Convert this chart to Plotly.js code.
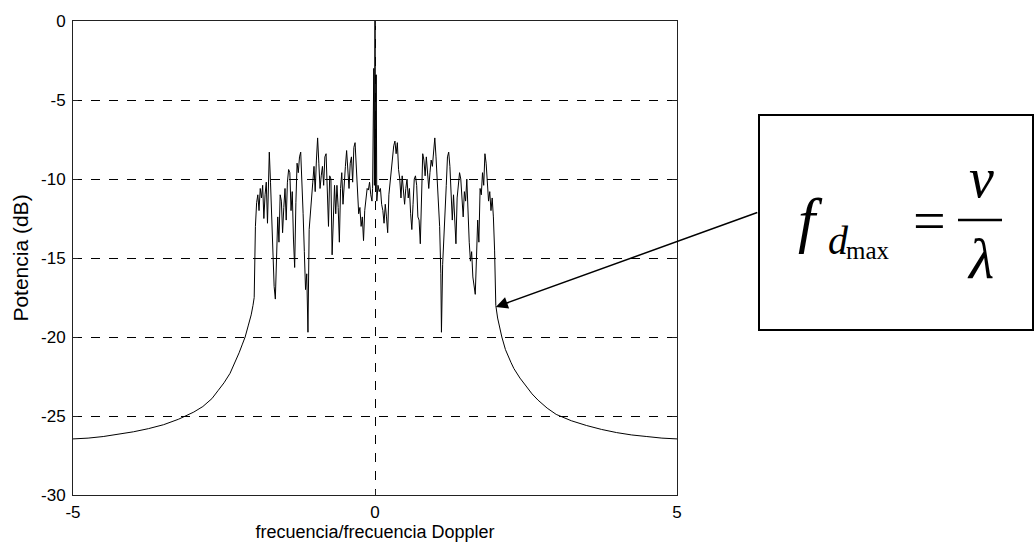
<!DOCTYPE html>
<html>
<head>
<meta charset="utf-8">
<script src="https://cdn.plot.ly/plotly-3.0.1.min.js"></script>
<style>html,body{margin:0;padding:0;background:#fff;}#chart{width:1034px;height:549px;}</style>
</head>
<body>
<div id="chart"></div>
<script>
// Frequency normalized by Doppler frequency
var freq = [
 -5.0,-4.75,-4.5,-4.25,-4.0,-3.75,-3.5,-3.25,-3.0,-2.85,-2.7,-2.6,-2.5,-2.4,-2.3,-2.25,-2.2,-2.15,-2.1,-2.05,-2.02,
 -2.00,-1.98,-1.96,-1.94,-1.92,-1.90,-1.88,-1.86,-1.84,-1.82,-1.80,-1.78,-1.76,-1.75,-1.73,-1.71,-1.69,-1.67,-1.65,-1.63,
 -1.61,-1.59,-1.57,-1.55,-1.53,-1.51,-1.49,-1.47,-1.45,-1.43,-1.41,-1.39,-1.37,-1.35,-1.33,-1.31,-1.29,-1.27,-1.25,-1.23,
 -1.21,-1.19,-1.17,-1.15,-1.13,-1.11,-1.09,-1.07,-1.05,-1.03,-1.01,-0.99,-0.97,-0.95,-0.93,-0.91,-0.89,-0.87,-0.85,-0.83,
 -0.81,-0.79,-0.77,-0.75,-0.73,-0.71,-0.69,-0.67,-0.65,-0.63,-0.61,-0.59,-0.57,-0.55,-0.53,-0.51,-0.49,-0.47,-0.45,-0.43,
 -0.41,-0.39,-0.37,-0.35,-0.33,-0.31,-0.29,-0.27,-0.25,-0.23,-0.21,-0.19,-0.17,-0.15,-0.13,-0.11,-0.09,-0.07,-0.05,-0.04,
 -0.03,-0.02,-0.01,0.00,0.01,0.02,0.03,0.05,0.07,0.09,
 0.11,0.13,0.15,0.17,0.19,0.21,0.23,0.25,0.27,0.29,0.31,0.33,0.35,0.37,0.39,0.41,0.43,0.45,0.47,0.49,
 0.51,0.53,0.55,0.57,0.59,0.61,0.63,0.65,0.67,0.69,0.71,0.73,0.75,0.77,0.79,0.81,0.83,0.85,0.87,0.89,
 0.91,0.93,0.95,0.97,0.99,1.01,1.03,1.05,1.07,1.09,1.10,1.12,1.14,1.16,1.18,1.20,1.22,1.24,1.26,1.28,
 1.30,1.32,1.34,1.36,1.38,1.40,1.42,1.44,1.46,1.48,1.50,1.52,1.54,1.56,1.58,1.60,1.62,1.64,1.66,1.68,
 1.70,1.72,1.74,1.76,1.78,1.80,1.82,1.84,1.86,1.88,1.90,1.92,1.94,1.96,1.98,2.00,
 2.03,2.06,2.10,2.16,2.2,2.25,2.3,2.4,2.5,2.6,2.7,2.85,3.0,3.25,3.5,3.75,4.0,4.25,4.5,4.75,5.0
];
// Power in dB
var power = [
 -26.45,-26.4,-26.3,-26.15,-26.0,-25.8,-25.55,-25.2,-24.75,-24.4,-23.9,-23.4,-22.9,-22.3,-21.5,-21.0,-20.5,-20.0,-19.3,-18.6,-18.0,
 -17.5,-13.0,-11.5,-11.0,-12.0,-10.6,-11.2,-10.4,-12.5,-11.0,-10.2,-12.8,-9.0,-8.3,-10.2,-12.4,-15.0,-16.8,-17.6,-15.2,
 -12.4,-14.0,-11.0,-11.4,-13.4,-11.8,-10.6,-12.6,-10.2,-9.4,-9.6,-12.0,-10.8,-13.8,-15.6,-11.5,-9.0,-9.6,-8.6,-8.3,
 -10.0,-12.2,-14.6,-17.0,-16.0,-19.7,-13.2,-12.0,-11.4,-10.2,-9.2,-10.8,-8.8,-7.4,-9.0,-10.6,-9.8,-9.2,-10.4,-8.6,
 -8.4,-11.2,-13.0,-9.8,-10.0,-14.8,-12.6,-10.4,-12.2,-10.4,-11.8,-14.0,-10.6,-9.6,-11.6,-10.0,-9.2,-8.2,-9.6,-10.6,
 -9.0,-8.6,-10.2,-8.0,-7.7,-9.4,-11.0,-12.2,-11.8,-13.0,-12.4,-13.9,-12.0,-11.2,-10.6,-10.7,-10.2,-11.0,-11.4,-10.6,
 -6.0,-3.0,-10.4,0.0,-10.8,-3.4,-11.4,-10.4,-10.8,-10.6,
 -11.6,-12.0,-12.8,-11.6,-12.4,-13.4,-11.0,-10.2,-9.0,-8.4,-7.9,-7.6,-8.4,-7.7,-9.4,-10.0,-11.2,-9.8,-10.6,-11.6,
 -10.6,-10.0,-11.2,-10.6,-12.2,-13.2,-11.6,-10.0,-9.8,-10.4,-12.4,-12.6,-14.1,-11.0,-8.4,-8.8,-9.8,-8.6,-9.4,-10.6,
 -9.6,-8.8,-9.2,-8.0,-7.4,-8.6,-10.2,-11.4,-13.0,-16.0,-19.7,-15.4,-14.0,-12.6,-10.4,-8.6,-8.3,-9.2,-10.6,-12.6,
 -11.0,-12.8,-14.1,-11.2,-10.2,-9.6,-10.0,-11.6,-12.4,-10.8,-11.4,-10.0,-12.6,-14.0,-15.2,-14.6,-16.2,-17.0,-17.3,-15.0,
 -12.6,-14.0,-10.6,-11.0,-9.6,-10.4,-8.4,-9.0,-10.2,-11.4,-10.8,-12.0,-11.2,-12.4,-14.5,-18.0,
 -18.8,-19.4,-20.0,-20.8,-21.2,-21.6,-22.0,-22.6,-23.1,-23.6,-24.0,-24.5,-24.9,-25.3,-25.6,-25.85,-26.05,-26.2,-26.3,-26.4,-26.45
];
var xTicks = [-5, 0, 5];
var yTicks = [-30, -25, -20, -15, -10, -5, 0];

var L = 73, R = 677, T = 21, B = 495;
function px(x){ return (x - L) / (R - L); }
function py(y){ return (B - y) / (B - T); }

var serif = 'Liberation Serif, Times New Roman, serif';
var sans = 'Liberation Sans, Arial, sans-serif';
var layout = {
  width: 1034, height: 549,
  margin: {l: L, r: 1034 - R, t: T, b: 549 - B, pad: 0},
  paper_bgcolor: '#ffffff', plot_bgcolor: '#ffffff',
  showlegend: false,
  font: {family: sans, size: 17, color: '#000'},
  xaxis: {
    range: [-5, 5], tickvals: xTicks, ticktext: xTicks.map(String),
    tickfont: {family: sans, size: 17, color: '#000'},
    ticklabelstandoff: 2,
    showline: true, mirror: 'ticks', linecolor: '#222', linewidth: 1,
    ticks: 'inside', ticklen: 5, tickcolor: '#222',
    showgrid: true, gridcolor: '#000', griddash: 'dash', gridwidth: 1,
    zeroline: false,
    title: {text: 'frecuencia/frecuencia Doppler', standoff: 3, font: {family: sans, size: 18, color: '#000'}}
  },
  yaxis: {
    range: [-30, 0], tickvals: yTicks, ticktext: yTicks.map(String),
    tickfont: {family: sans, size: 17, color: '#000'},
    ticklabelstandoff: 3,
    showline: true, mirror: 'ticks', linecolor: '#222', linewidth: 1,
    ticks: 'inside', ticklen: 5, tickcolor: '#222',
    showgrid: true, gridcolor: '#000', griddash: 'dash', gridwidth: 1,
    zeroline: false,
    title: {text: 'Potencia (dB)', standoff: 6, font: {family: sans, size: 21, color: '#000'}}
  },
  shapes: [
    {type: 'rect', xref: 'paper', yref: 'paper', x0: px(759), x1: px(1033), y0: py(330), y1: py(115),
     line: {color: '#000', width: 2}, fillcolor: 'rgba(0,0,0,0)'},
    {type: 'line', xref: 'paper', yref: 'paper', x0: px(958), x1: px(1002), y0: py(220), y1: py(220),
     line: {color: '#000', width: 2.5}}
  ],
  annotations: [
    {x: 2.0, y: -18.1, xref: 'x', yref: 'y', ax: 263, ay: -95, axref: 'pixel', ayref: 'pixel',
     showarrow: true, arrowhead: 2, arrowsize: 1.6, arrowwidth: 1.5, arrowcolor: '#000', text: ''},
    {xref: 'paper', yref: 'paper', x: px(810), y: py(220), xanchor: 'center', yanchor: 'middle', showarrow: false,
     text: '<i>f</i>', font: {family: serif, size: 62, color: '#000', style: 'italic'}},
    {xref: 'paper', yref: 'paper', x: px(838), y: py(240), xanchor: 'center', yanchor: 'middle', showarrow: false,
     text: '<i>d</i>', font: {family: serif, size: 40, color: '#000', style: 'italic'}},
    {xref: 'paper', yref: 'paper', x: px(868), y: py(251), xanchor: 'center', yanchor: 'middle', showarrow: false,
     text: 'max', font: {family: serif, size: 25, color: '#000'}},
    {xref: 'paper', yref: 'paper', x: px(929), y: py(220), xanchor: 'center', yanchor: 'middle', showarrow: false,
     text: '=', font: {family: serif, size: 58, color: '#000'}},
    {xref: 'paper', yref: 'paper', x: px(981), y: py(178), xanchor: 'center', yanchor: 'middle', showarrow: false,
     text: '<i>v</i>', font: {family: serif, size: 56, color: '#000', style: 'italic'}},
    {xref: 'paper', yref: 'paper', x: px(980), y: py(258), xanchor: 'center', yanchor: 'middle', showarrow: false,
     text: '<i>λ</i>', font: {family: serif, size: 58, color: '#000', style: 'italic'}}
  ]
};

var trace = {x: freq, y: power, type: 'scatter', mode: 'lines',
  line: {color: '#000', width: 1}, hoverinfo: 'skip'};

Plotly.newPlot('chart', [trace], layout, {staticPlot: true, displayModeBar: false});
</script>
</body>
</html>
